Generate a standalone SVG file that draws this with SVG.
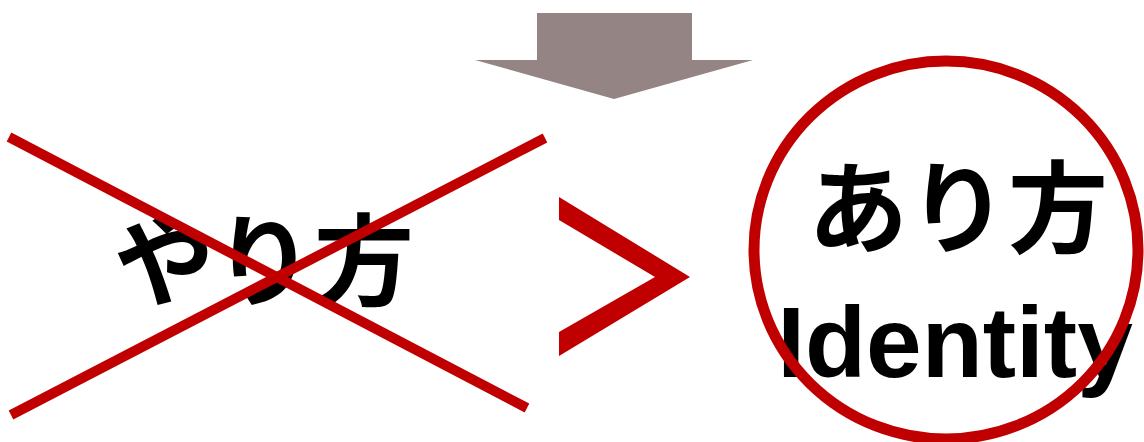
<svg xmlns="http://www.w3.org/2000/svg" width="1144" height="442" viewBox="0 0 1144 442">
<style>
.jp{font-family:"Noto Sans CJK JP","Noto Sans CJK SC",sans-serif;font-weight:bold;fill:#000}
.en{font-family:"Liberation Sans",Arial,sans-serif;font-weight:bold;fill:#000}
.red{stroke:#C00000;fill:none}
</style>
<rect width="1144" height="442" fill="#fff"/>
<g id="down-arrow">
<polygon points="537,13 692,13 692,60 753,60 614,99 475,60 537,60" fill="#948584"/>
</g>
<g id="yarikata">
<text class="jp" x="264" y="298" font-size="100" text-anchor="middle">やり方</text>
<line class="red" x1="9" y1="137" x2="527" y2="408" stroke-width="10"/>
<line class="red" x1="545" y1="138" x2="11" y2="415" stroke-width="10"/>
</g>
<g id="greater-than">
<polygon points="559,197 690,277 559,356 559,332 655,277 559,220" fill="#C00000"/>
</g>
<g id="arikata">
<text class="jp" x="958" y="245" font-size="100" text-anchor="middle">あり方</text>
<text class="en" x="955" y="377" font-size="100" text-anchor="middle">Identity</text>
<ellipse class="red" cx="946" cy="250" rx="192" ry="189" stroke-width="11"/>
</g>
</svg>
